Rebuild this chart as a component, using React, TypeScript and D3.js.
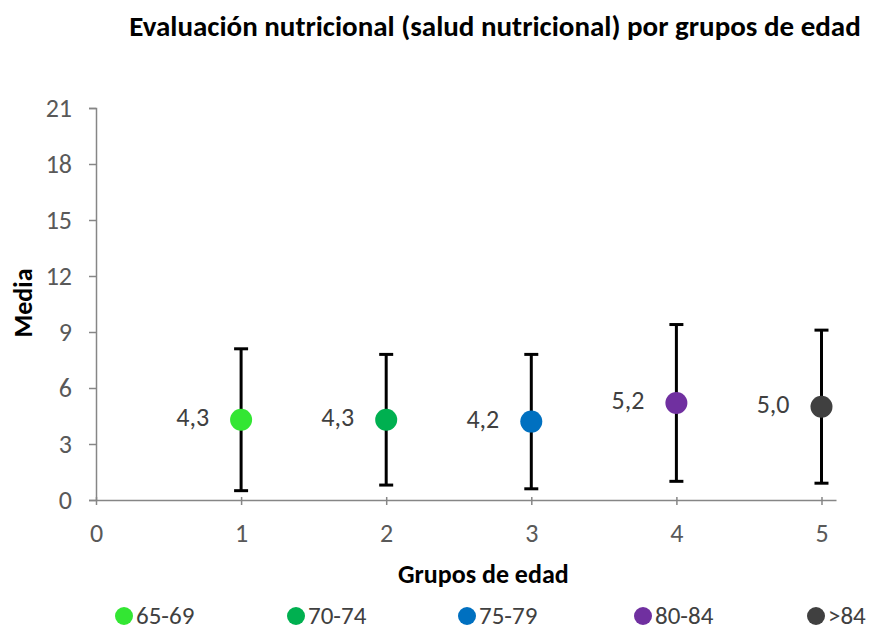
import React, { useEffect, useRef } from "react";
import * as d3 from "d3";

const groups = ["65-69", "70-74", "75-79", "80-84", ">84"];
const xPos = [1, 2, 3, 4, 5];
const means = [4.3, 4.3, 4.2, 5.2, 5.0];
const sds = [3.8, 3.5, 3.6, 4.2, 4.1];
const colors = ["#33e633", "#00b050", "#0070c0", "#7030a0", "#404040"];
const yTicks = [0, 3, 6, 9, 12, 15, 18, 21];
const xTicks = [0, 1, 2, 3, 4, 5];

const FONT = "Calibri, Carlito, 'Open Sans', sans-serif";

const App = () => {
    const ref = useRef<SVGSVGElement>(null);

    useEffect(() => {
        if (!ref.current) return;
        const svg = d3.select(ref.current);
        svg.selectAll("*").remove();

        const x = d3.scaleLinear().domain([0, 5.1]).range([96, 836]);
        const y = d3.scaleLinear().domain([0, 21]).range([500, 108]);

        svg.append("rect").attr("width", 873).attr("height", 630).attr("fill", "#fff");

        // title
        svg.append("text")
            .attr("x", 495)
            .attr("y", 36)
            .attr("text-anchor", "middle")
            .attr("font-family", FONT)
            .attr("font-weight", "bold")
            .attr("font-size", 29)
            .attr("fill", "#000")
            .text("Evaluación nutricional (salud nutricional) por grupos de edad");

        // y axis
        const yAxis = svg.append("g")
            .attr("transform", "translate(96,0)")
            .call(d3.axisLeft(y).tickValues(yTicks).tickSize(7).tickPadding(17));
        yAxis.select(".domain").attr("stroke", "#868686").attr("stroke-width", 1.5);
        yAxis.selectAll(".tick line").attr("stroke", "#868686").attr("stroke-width", 1.5);
        yAxis.selectAll("text")
            .attr("font-family", FONT)
            .attr("font-size", 26)
            .attr("fill", "#595959");

        // x axis
        const xAxis = svg.append("g")
            .attr("transform", "translate(0,500)")
            .call(
                d3.axisBottom(x)
                    .tickValues(xTicks)
                    .tickFormat(d3.format("d"))
                    .tickSize(5)
                    .tickSizeOuter(0)
                    .tickPadding(19)
            );
        xAxis.select(".domain").attr("stroke", "#868686").attr("stroke-width", 1.5);
        xAxis.selectAll(".tick line")
            .attr("y1", -3)
            .attr("stroke", "#868686")
            .attr("stroke-width", 1.5);
        xAxis.selectAll("text")
            .attr("font-family", FONT)
            .attr("font-size", 26)
            .attr("fill", "#595959");

        // axis titles
        svg.append("text")
            .attr("transform", "translate(32,303) rotate(-90)")
            .attr("text-anchor", "middle")
            .attr("font-family", FONT)
            .attr("font-weight", "bold")
            .attr("font-size", 26)
            .text("Media");

        svg.append("text")
            .attr("x", 398)
            .attr("y", 583)
            .attr("font-family", FONT)
            .attr("font-weight", "bold")
            .attr("font-size", 26)
            .text("Grupos de edad");

        const idx = d3.range(groups.length);

        // error bars
        const eb = svg.append("g").attr("stroke", "#000").attr("stroke-width", 3);
        idx.forEach((i) => {
            const cx = x(xPos[i]);
            const lo = y(means[i] - sds[i]);
            const hi = y(means[i] + sds[i]);
            eb.append("line").attr("x1", cx).attr("x2", cx).attr("y1", lo).attr("y2", hi);
            eb.append("line").attr("x1", cx - 7).attr("x2", cx + 7).attr("y1", lo).attr("y2", lo);
            eb.append("line").attr("x1", cx - 7).attr("x2", cx + 7).attr("y1", hi).attr("y2", hi);
        });

        // points
        svg.selectAll(".pt")
            .data(idx)
            .enter()
            .append("circle")
            .attr("cx", (i) => x(xPos[i]))
            .attr("cy", (i) => y(means[i]))
            .attr("r", 11)
            .attr("fill", (i) => colors[i]);

        // labels
        svg.selectAll(".lbl")
            .data(idx)
            .enter()
            .append("text")
            .attr("x", (i) => x(xPos[i]) - 32)
            .attr("y", (i) => y(means[i]) + 6)
            .attr("text-anchor", "end")
            .attr("font-family", FONT)
            .attr("font-size", 26)
            .attr("fill", "#404040")
            .text((i) => d3.format(".1f")(means[i]).replace(".", ","));

        // legend
        const legendX = [124, 296, 467, 643, 816];
        const lg = svg.selectAll(".lg")
            .data(idx)
            .enter()
            .append("g")
            .attr("transform", (i) => `translate(${legendX[i]},616)`);
        lg.append("circle").attr("r", 9).attr("fill", (i) => colors[i]);
        lg.append("text")
            .attr("x", 12)
            .attr("y", 8)
            .attr("font-family", FONT)
            .attr("font-size", 25)
            .attr("fill", "#404040")
            .text((i) => groups[i]);
    }, []);

    return (
        <svg
            ref={ref}
            width={873}
            height={630}
            style={{ position: "absolute", left: 0, top: 0 }}
        />
    );
};

export default App;
